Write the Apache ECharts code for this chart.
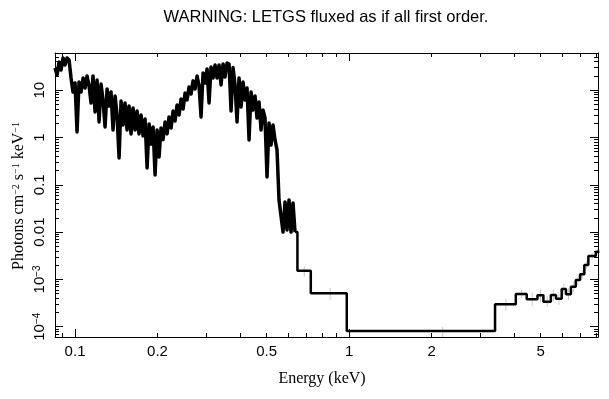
<!DOCTYPE html>
<html>
<head>
<meta charset="utf-8">
<script src="https://cdn.jsdelivr.net/npm/echarts@6/dist/echarts.min.js"></script>
<style>
  html, body { margin: 0; padding: 0; background: #fff; }
  #chart { width: 609px; height: 399px; }
</style>
</head>
<body>
<div id="chart"></div>
<script>
// fine LETGS bins below ~0.65 keV: left edge (keV) and flux (photons cm^-2 s^-1 keV^-1)
const fineEnergy = [
  0.0845, 0.0860, 0.0874, 0.0889, 0.0904, 0.0919, 0.0935, 0.0951, 0.0967, 0.0983,
  0.1000, 0.1017, 0.1034, 0.1052, 0.1070, 0.1088, 0.1106, 0.1125, 0.1144, 0.1163,
  0.1183, 0.1203, 0.1224, 0.1244, 0.1265, 0.1287, 0.1309, 0.1331, 0.1353, 0.1376,
  0.1400, 0.1423, 0.1448, 0.1472, 0.1497, 0.1522, 0.1548, 0.1574, 0.1601, 0.1628,
  0.1656, 0.1684, 0.1712, 0.1741, 0.1771, 0.1801, 0.1832, 0.1863, 0.1894, 0.1926,
  0.1959, 0.1992, 0.2026, 0.2060, 0.2095, 0.2131, 0.2167, 0.2203, 0.2241, 0.2279,
  0.2317, 0.2357, 0.2397, 0.2437, 0.2479, 0.2521, 0.2563, 0.2607, 0.2651, 0.2696,
  0.2742, 0.2788, 0.2835, 0.2883, 0.2932, 0.2982, 0.3032, 0.3084, 0.3136, 0.3189,
  0.3243, 0.3298, 0.3354, 0.3411, 0.3469, 0.3527, 0.3587, 0.3648, 0.3710, 0.3772,
  0.3836, 0.3901, 0.3967, 0.4035, 0.4103, 0.4172, 0.4243, 0.4315, 0.4388, 0.4462,
  0.4538, 0.4615, 0.4693, 0.4772, 0.4853, 0.4935, 0.5019, 0.5104, 0.5190, 0.5278,
  0.5368, 0.5459, 0.5551, 0.5645, 0.5741, 0.5838, 0.5937, 0.6038, 0.6140, 0.6244,
  0.6350
];
const fineFlux = [
  29.5, 21.0, 39.4, 26.7, 47.9, 34.1, 47.9, 43.5, 18.1, 9.16,
  14.2, 1.31, 14.9, 9.16, 18.1, 11.1, 20.0, 12.3, 5.36, 20.0,
  3.46, 16.4, 2.13, 13.5, 6.21, 1.67, 10.6, 4.63, 9.16, 1.44,
  7.54, 3.0, 0.369, 5.91, 1.84, 5.36, 1.44, 4.63, 1.19, 4.20,
  1.44, 3.63, 1.19, 2.99, 1.08, 2.46, 0.227, 1.93, 0.729, 1.67,
  0.161, 1.44, 0.387, 1.59, 0.90, 2.13, 1.19, 2.71, 1.59, 3.63,
  2.23, 4.86, 2.99, 6.51, 4.00, 8.73, 6.21, 11.7, 8.31, 15.7,
  10.6, 20.0, 12.3, 2.71, 23.1, 14.2, 28.1, 5.36, 30.9, 18.1,
  34.1, 18.1, 34.1, 12.9, 35.8, 19.0, 37.6, 35.8, 3.63, 30.0,
  12.9, 2.13, 18.1, 4.41, 14.9, 6.21, 11.1, 0.886, 9.16, 3.82,
  7.54, 2.58, 5.63, 1.44, 3.82, 2.58, 0.146, 2.03, 0.694, 1.84,
  0.886, 0.544, 0.0477, 0.0477, 0.0100, 0.0433, 0.0111, 0.0477, 0.0100, 0.0412,
  0.0100
];

// grouped bins above 0.65 keV: left edge, flux and the grey error bar ends
const coarseEdge = [0.648, 0.725, 0.981, 3.41, 4.06, 4.45, 4.87, 5.12, 5.45, 5.69, 5.97, 6.19, 6.45, 6.72, 6.97, 7.22, 7.47, 7.95];
const coarseFlux = [1.53e-3, 5.08e-4, 8.1e-5, 2.98e-4, 4.91e-4, 3.80e-4, 4.61e-4, 3.38e-4, 4.65e-4, 3.91e-4, 6.27e-4, 4.85e-4, 7.01e-4, 9.71e-4, 1.28e-3, 2.02e-3, 3.12e-3, 3.85e-3];
const coarseLo = [1.14e-3, 3.7e-4, 5.0e-5, 2.15e-4, 4.04e-4, 2.7e-4, 3.3e-4, 2.6e-4, 3.4e-4, 2.9e-4, 4.7e-4, 3.7e-4, 5.4e-4, 7.6e-4, 1.02e-3, 1.65e-3, 2.6e-3, 3.3e-3];
const coarseHi = [1.86e-3, 6.6e-4, 1.0e-4, 3.85e-4, 5.97e-4, 5.2e-4, 6.2e-4, 4.4e-4, 6.2e-4, 5.3e-4, 8.2e-4, 6.4e-4, 9.0e-4, 1.23e-3, 1.6e-3, 2.45e-3, 3.7e-3, 4.5e-3];
const lastEdge = 8.2;

const xRange = [0.0845, 8.1];
const yRange = [6.05e-5, 61];
const xLabels = [0.1, 0.2, 0.5, 1, 2, 5];
const xMajor = [0.1, 1];
const xMinor = [0.09, 0.2, 0.3, 0.4, 0.5, 0.6, 0.7, 0.8, 0.9, 2, 3, 4, 5, 6, 7, 8];
const yLabels = ['10{s|−4}', '10{s|−3}', '0.01', '0.1', '1', '10'];
const yMajor = [1e-4, 1e-3, 0.01, 0.1, 1, 10];

const lg = Math.log10;
const SANS = '"Liberation Sans", Arial, sans-serif';
const SERIF = '"Liberation Serif", "Times New Roman", serif';

const yMinor = [];
[1e-5, 1e-4, 1e-3, 0.01, 0.1, 1, 10].forEach(function (d) {
  for (let k = 2; k <= 9; k++) {
    const v = k * d;
    if (v > yRange[0] && v < yRange[1]) yMinor.push(v);
  }
});

const fineData = fineEnergy.map(function (e, i) { return [lg(e), lg(fineFlux[i])]; });
const nFine = fineFlux.length;
const coarseData = [[lg(fineEnergy[nFine - 1]), lg(fineFlux[nFine - 1])]]
  .concat(coarseEdge.map(function (e, i) { return [lg(e), lg(coarseFlux[i])]; }))
  .concat([[lg(lastEdge), lg(coarseFlux[coarseFlux.length - 1])]]);

const errData = coarseEdge.map(function (e, i) {
  const right = i + 1 < coarseEdge.length ? coarseEdge[i + 1] : lastEdge;
  return [lg((e + right) / 2), lg(coarseLo[i]), lg(coarseHi[i])];
});

function mkX(position, ticks, len, labels, line) {
  return {
    type: 'value', position: position,
    min: lg(xRange[0]), max: lg(xRange[1]),
    axisLine: { show: line, onZero: false, lineStyle: { color: '#000', width: 1 } },
    axisTick: { show: true, inside: true, length: len, customValues: ticks.map(lg), lineStyle: { color: '#000', width: 1 } },
    axisLabel: {
      show: labels, customValues: xLabels.map(lg), margin: 7,
      color: '#000', fontFamily: SANS, fontSize: 15,
      formatter: function (v) { return String(Number(Math.pow(10, v).toPrecision(2))); }
    },
    splitLine: { show: false }
  };
}

function mkY(position, ticks, len, labels, line) {
  return {
    type: 'value', position: position,
    min: lg(yRange[0]), max: lg(yRange[1]),
    axisLine: { show: line, onZero: false, lineStyle: { color: '#000', width: 1 } },
    axisTick: { show: true, inside: true, length: len, customValues: ticks.map(lg), lineStyle: { color: '#000', width: 1 } },
    axisLabel: {
      show: labels, customValues: yMajor.map(lg), margin: 8, rotate: 90,
      color: '#000', fontFamily: SANS, fontSize: 15, lineHeight: 15,
      formatter: function (v) { return yLabels[Math.round(v) + 4]; },
      rich: { s: { fontSize: 10, lineHeight: 10, verticalAlign: 'top', fontFamily: SANS, color: '#000' } }
    },
    splitLine: { show: false }
  };
}

const chart = echarts.init(document.getElementById('chart'));
chart.setOption({
  animation: false,
  backgroundColor: '#fff',
  grid: { left: 55, right: 11, top: 53, bottom: 62, outerBoundsMode: 'none' },
  xAxis: [
    mkX('bottom', xMajor, 8, true, true),
    mkX('bottom', xMinor, 4, false, false),
    mkX('top', xMajor, 8, false, true),
    mkX('top', xMinor, 4, false, false)
  ],
  yAxis: [
    mkY('left', yMajor, 8, true, true),
    mkY('left', yMinor, 4, false, false),
    mkY('right', yMajor, 8, false, true),
    mkY('right', yMinor, 4, false, false)
  ],
  graphic: [
    {
      type: 'text', x: 326, y: 9,
      style: { text: 'WARNING: LETGS fluxed as if all first order.', fontSize: 16.5, fontFamily: SANS, fill: '#000', textAlign: 'center', textVerticalAlign: 'top' }
    },
    {
      type: 'text', x: 322, y: 371,
      style: { text: 'Energy (keV)', fontSize: 16, fontFamily: SERIF, fill: '#000', textAlign: 'center', textVerticalAlign: 'top' }
    },
    {
      type: 'text', x: 19, y: 196, rotation: Math.PI / 2,
      style: {
        text: 'Photons cm{s|−2} s{s|−1} keV{s|−1}', fontSize: 16, fontFamily: SERIF, fill: '#000',
        textAlign: 'center', textVerticalAlign: 'middle', lineHeight: 16,
        rich: { s: { fontSize: 10, lineHeight: 10, verticalAlign: 'top', fontFamily: SERIF, fill: '#000' } }
      }
    }
  ],
  series: [
    {
      type: 'custom', xAxisIndex: 0, yAxisIndex: 0, clip: true, silent: true, z: 1,
      data: errData,
      renderItem: function (params, api) {
        const a = api.coord([api.value(0), api.value(1)]);
        const b = api.coord([api.value(0), api.value(2)]);
        return { type: 'line', shape: { x1: a[0], y1: a[1], x2: b[0], y2: b[1] }, style: { stroke: '#c8c8c8', lineWidth: 1 } };
      }
    },
    {
      type: 'line', xAxisIndex: 0, yAxisIndex: 0, z: 2,
      symbol: 'none', data: fineData,
      lineStyle: { color: '#000', width: 3.5, join: 'round' }
    },
    {
      type: 'line', xAxisIndex: 0, yAxisIndex: 0, step: 'end', z: 2,
      symbol: 'none', data: coarseData,
      lineStyle: { color: '#000', width: 2.5 }
    }
  ]
});
</script>
</body>
</html>
